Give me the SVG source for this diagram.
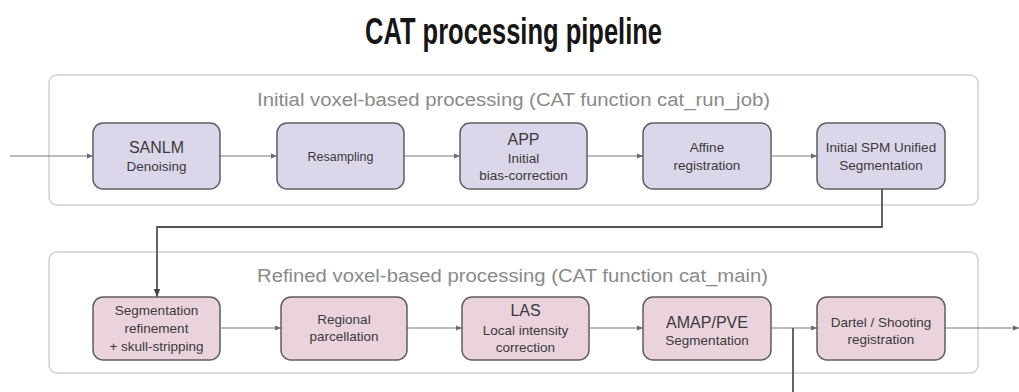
<svg xmlns="http://www.w3.org/2000/svg" width="1019" height="392" viewBox="0 0 1019 392">
<defs>
<style>
.title{font-family:"Liberation Sans",Arial,sans-serif;font-weight:bold;font-size:36px;fill:#161616}
.glabel{font-family:"Liberation Sans",Arial,sans-serif;font-size:18px;fill:#8a8a8a}
.group{fill:#ffffff;stroke:#d2d2d2;stroke-width:1.5}
.n1{fill:#dcd6ea;stroke:#5f5f5f;stroke-width:1.5}
.n2{fill:#ead3dc;stroke:#5f5f5f;stroke-width:1.5}
.main{font-family:"Liberation Sans",Arial,sans-serif;font-size:16px;fill:#3a3a3a;text-anchor:middle}
.sub{font-family:"Liberation Sans",Arial,sans-serif;font-size:13.5px;fill:#3a3a3a;text-anchor:middle}
.edge{fill:none;stroke:#7a7a7a;stroke-width:1.2}
.edge2{fill:none;stroke:#555555;stroke-width:1.8}
</style>
<marker id="ah" viewBox="0 0 10 10" refX="10" refY="5" markerWidth="6" markerHeight="6" markerUnits="userSpaceOnUse" orient="auto">
<path d="M0,1 L10,5 L0,9 Z" fill="#6a6a6a"/>
</marker>
<marker id="ah2" viewBox="0 0 10 10" refX="10" refY="5" markerWidth="8" markerHeight="8" markerUnits="userSpaceOnUse" orient="auto">
<path d="M0,1 L10,5 L0,9 Z" fill="#444444"/>
</marker>
</defs>
<rect x="0" y="0" width="1019" height="392" fill="#ffffff"/>
<text class="title" x="365" y="44" textLength="297" lengthAdjust="spacingAndGlyphs">CAT processing pipeline</text>

<g id="group-initial">
<rect class="group" x="49" y="75" width="929" height="130" rx="8"/>
<text class="glabel" x="257" y="106" textLength="513" lengthAdjust="spacingAndGlyphs">Initial voxel-based processing (CAT function cat_run_job)</text>
</g>
<g id="group-refined">
<rect class="group" x="49" y="252" width="929" height="121" rx="8"/>
<text class="glabel" x="257" y="282" textLength="511" lengthAdjust="spacingAndGlyphs">Refined voxel-based processing (CAT function cat_main)</text>
</g>

<g id="connectors">
<path class="edge" d="M10,156 H93" marker-end="url(#ah)"/>
<path class="edge" d="M220,156 H277" marker-end="url(#ah)"/>
<path class="edge" d="M404,156 H460" marker-end="url(#ah)"/>
<path class="edge" d="M587,156 H643" marker-end="url(#ah)"/>
<path class="edge" d="M771,156 H817" marker-end="url(#ah)"/>
<path class="edge2" d="M882,189 V227 H157 V297" marker-end="url(#ah2)"/>
<path class="edge" d="M220,328 H281" marker-end="url(#ah)"/>
<path class="edge" d="M407,328 H462" marker-end="url(#ah)"/>
<path class="edge" d="M589,328 H643" marker-end="url(#ah)"/>
<path class="edge" d="M771,328 H817" marker-end="url(#ah)"/>
<path class="edge2" d="M793,328 V392"/>
<path class="edge" d="M945,328 H1019" marker-end="url(#ah)"/>
</g>

<g id="node-sanlm">
<rect class="n1" x="93" y="123" width="127" height="66" rx="10"/>
<text class="main" x="156.5" y="153">SANLM</text>
<text class="sub" x="156.5" y="171">Denoising</text>
</g>
<g id="node-resampling">
<rect class="n1" x="277" y="123" width="127" height="66" rx="10"/>
<text class="sub" x="340.5" y="161" style="font-size:12.5px">Resampling</text>
</g>
<g id="node-app">
<rect class="n1" x="460" y="123" width="127" height="66" rx="10"/>
<text class="main" x="523.5" y="145">APP</text>
<text class="sub" x="523.5" y="163">Initial</text>
<text class="sub" x="523.5" y="180">bias-correction</text>
</g>
<g id="node-affine">
<rect class="n1" x="643" y="123" width="128" height="66" rx="10"/>
<text class="sub" x="707" y="152">Affine</text>
<text class="sub" x="707" y="170">registration</text>
</g>
<g id="node-spm">
<rect class="n1" x="817" y="123" width="128" height="66" rx="10"/>
<text class="sub" x="881" y="152">Initial SPM Unified</text>
<text class="sub" x="881" y="170">Segmentation</text>
</g>

<g id="node-segref">
<rect class="n2" x="93" y="297" width="127" height="63" rx="10"/>
<text class="sub" x="156.5" y="315">Segmentation</text>
<text class="sub" x="156.5" y="333">refinement</text>
<text class="sub" x="156.5" y="351">+ skull-stripping</text>
</g>
<g id="node-regional">
<rect class="n2" x="281" y="297" width="126" height="63" rx="10"/>
<text class="sub" x="344" y="324">Regional</text>
<text class="sub" x="344" y="341">parcellation</text>
</g>
<g id="node-las">
<rect class="n2" x="462" y="297" width="127" height="63" rx="10"/>
<text class="main" x="525.5" y="316">LAS</text>
<text class="sub" x="525.5" y="335">Local intensity</text>
<text class="sub" x="525.5" y="352">correction</text>
</g>
<g id="node-amap">
<rect class="n2" x="643" y="297" width="128" height="63" rx="10"/>
<text class="main" x="707" y="328">AMAP/PVE</text>
<text class="sub" x="707" y="345">Segmentation</text>
</g>
<g id="node-dartel">
<rect class="n2" x="817" y="297" width="128" height="63" rx="10"/>
<text class="sub" x="881" y="327">Dartel / Shooting</text>
<text class="sub" x="881" y="344">registration</text>
</g>
</svg>
